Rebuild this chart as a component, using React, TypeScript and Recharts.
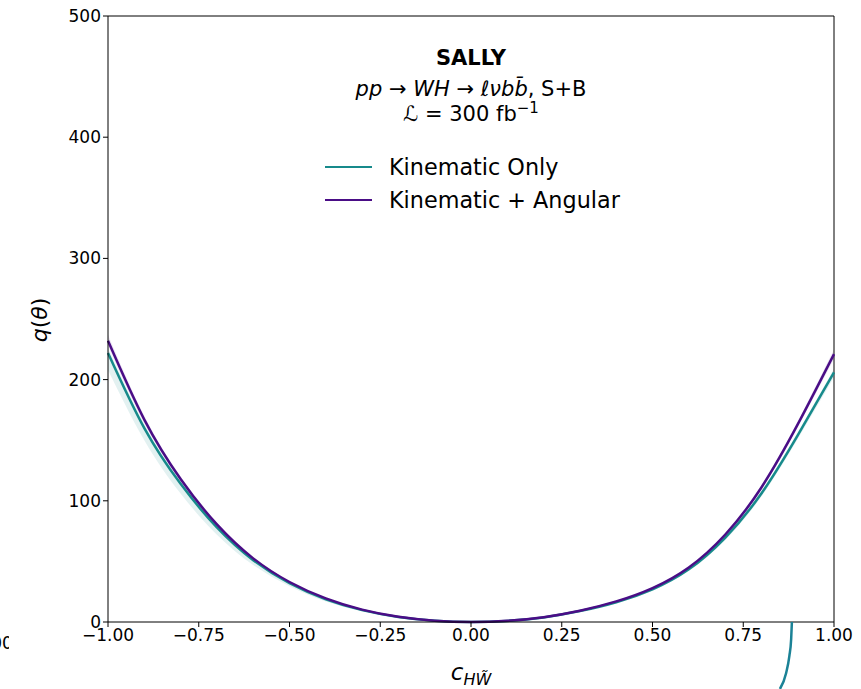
import { ComposedChart, LineChart, Line, Area, XAxis, YAxis, ReferenceLine } from 'recharts';

// c_HW~ values and q(theta)
const cValues = [-1, -0.9, -0.8, -0.7, -0.6, -0.5, -0.4, -0.3, -0.2, -0.1, 0, 0.1, 0.2, 0.3, 0.4, 0.5, 0.6, 0.7, 0.8, 0.9, 1];
const kinOnly = [222, 160, 114, 78, 51, 32, 18.7, 9.8, 4.1, 1.0, 0, 0.9, 3.8, 9.0, 16.3, 27, 43.5, 69.5, 106, 154, 206];
const kinOnlyLo = [208, 150, 106, 72, 47, 29.5, 17, 9, 3.8, 0.9, 0, 0.8, 3.6, 8.6, 15.5, 25.7, 42, 67.5, 103.5, 151, 202];
const kinOnlyHi = [226, 163, 116, 79, 51.8, 32.6, 18.9, 10, 4.2, 1.05, 0, 0.95, 3.9, 9.2, 16.7, 27.6, 44.5, 71, 108, 156.5, 209];
const kinAng = [232, 167, 118, 80.5, 52.5, 33, 19.5, 10.2, 4.3, 1.1, 0, 1.0, 4.0, 9.3, 17, 28, 45, 72, 111, 163, 221];
const kinAngLo = [228, 164, 116, 79, 51.5, 32.3, 19.1, 10, 4.2, 1.05, 0, 0.95, 3.9, 9.1, 16.6, 27.4, 44, 70.5, 109, 160.5, 217];
const kinAngHi = [237, 170, 120, 82, 53.5, 33.6, 19.9, 10.4, 4.4, 1.15, 0, 1.05, 4.1, 9.5, 17.4, 28.6, 46, 73.5, 113, 165.5, 225];

const xTicks = [-1, -0.75, -0.5, -0.25, 0, 0.25, 0.5, 0.75, 1];
const yTicks = [0, 100, 200, 300, 400, 500];

// stray curve from the neighbouring panel, below the axis
const strayX = [0.884, 0.882, 0.877, 0.868, 0.851];
const strayY = [0, -14, -28, -42, -55];

const TEAL = '#178a8b';
const PURPLE = '#4a0d86';
const FONT = '"DejaVu Sans", sans-serif';

const legendItems = [
  { name: 'Kinematic Only', color: TEAL },
  { name: 'Kinematic + Angular', color: PURPLE },
];

const data = cValues.map((x, i) => ({
  x,
  kin: kinOnly[i],
  ang: kinAng[i],
  kinBand: [kinOnlyLo[i], kinOnlyHi[i]],
  angBand: [kinAngLo[i], kinAngHi[i]],
}));

const strayData = strayX.map((x, i) => ({ x, y: strayY[i] }));

const fmtX = (v: number) => (v < 0 ? '\u2212' + Math.abs(v).toFixed(2) : v.toFixed(2));

export default function App() {
  return (
    <div style={{ position: 'absolute', left: 0, top: 0, width: 861, height: 689, background: '#fff', overflow: 'hidden' }}>
      <ComposedChart width={861} height={689} data={data} margin={{ top: 16, right: 27, bottom: 0, left: 0 }}>
        <defs>
          <clipPath id="edgeClip">
            <rect x={0} y={600} width={9} height={60} />
          </clipPath>
        </defs>
        <XAxis
          dataKey="x"
          type="number"
          domain={[-1, 1]}
          ticks={xTicks}
          tickFormatter={fmtX}
          height={67}
          stroke="#000"
          tickSize={5}
          tick={{ fill: '#000', fontSize: 17, fontFamily: FONT }}
          label={({ viewBox }: any) => (
            <text x={viewBox.x + viewBox.width / 2} y={680} textAnchor="middle" fontFamily={FONT} fill="#000">
              <tspan fontStyle="italic" fontSize={23}>c</tspan>
              <tspan fontStyle="italic" fontSize={16} dy={5}>HW̃</tspan>
            </text>
          )}
        />
        <YAxis
          type="number"
          domain={[0, 500]}
          ticks={yTicks}
          width={108}
          stroke="#000"
          tickSize={5}
          tick={{ fill: '#000', fontSize: 17, fontFamily: FONT }}
          label={() => (
            <text x={47} y={320} transform="rotate(-90 47 320)" textAnchor="middle" fontFamily={FONT} fontSize={22} fill="#000">
              <tspan fontStyle="italic">q</tspan>(<tspan fontStyle="italic">θ</tspan>)
            </text>
          )}
        />
        <ReferenceLine y={500} stroke="#000" strokeWidth={1} />
        <ReferenceLine x={1} stroke="#000" strokeWidth={1} />
        <Area dataKey="kinBand" type="natural" fill={TEAL} fillOpacity={0.12} stroke="none" isAnimationActive={false} />
        <Area dataKey="angBand" type="natural" fill={PURPLE} fillOpacity={0.1} stroke="none" isAnimationActive={false} />
        <Line dataKey="kin" type="natural" stroke={TEAL} strokeWidth={2.5} dot={false} isAnimationActive={false} />
        <Line dataKey="ang" type="natural" stroke={PURPLE} strokeWidth={2.5} dot={false} isAnimationActive={false} />
        <text x={-25} y={649} fontFamily={FONT} fontSize={17} fill="#000" clipPath="url(#edgeClip)">1.00</text>
      </ComposedChart>

      <div style={{ position: 'absolute', left: 0, top: 0, pointerEvents: 'none' }}>
        <LineChart width={861} height={689} data={strayData} margin={{ top: 622, right: 27, bottom: 0, left: 108 }}>
          <XAxis dataKey="x" type="number" domain={[-1, 1]} hide />
          <YAxis type="number" domain={[-55, 0]} hide />
          <Line dataKey="y" type="monotone" stroke="#1b8296" strokeWidth={2.5} dot={false} isAnimationActive={false} />
        </LineChart>
      </div>

      <div style={{ position: 'absolute', left: 271, width: 400, top: 45, textAlign: 'center', fontFamily: FONT, color: '#000' }}>
        <div style={{ fontWeight: 'bold', fontSize: 21, height: 31, lineHeight: '27px' }}>SALLY</div>
        <div style={{ fontSize: 21, height: 25, lineHeight: '27px' }}>
          <i>pp</i> → <i>WH</i> → <i>ℓνbb̄</i>, S+B
        </div>
        <div style={{ fontSize: 21, lineHeight: '27px' }}>
          <i>ℒ</i> = 300 fb<sup style={{ fontSize: 15, verticalAlign: 'top', lineHeight: '15px' }}>−1</sup>
        </div>
      </div>

      <div style={{ position: 'absolute', left: 325, top: 150, fontFamily: FONT, fontSize: 22.3, color: '#000' }}>
        {legendItems.map((item) => (
          <div key={item.name} style={{ display: 'flex', alignItems: 'center', height: 33 }}>
            <span style={{ display: 'inline-block', width: 47, height: 0, borderTop: `2.5px solid ${item.color}`, marginRight: 17 }} />
            <span>{item.name}</span>
          </div>
        ))}
      </div>
    </div>
  );
}
